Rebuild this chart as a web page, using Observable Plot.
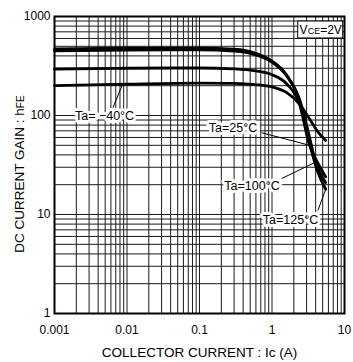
<!DOCTYPE html>
<html><head><meta charset="utf-8">
<script src="https://cdn.jsdelivr.net/npm/d3@7"></script>
<script src="https://cdn.jsdelivr.net/npm/@observablehq/plot@0.6"></script>
<style>body{margin:0;background:#fff}</style>
</head><body><div id="chart"></div>
<script>
// Axis ticks
const xTicks = [0.001, 0.01, 0.1, 1, 10];
const xTickLabels = ["0.001", "0.01", "0.1", "1", "10"];
const yTicks = [1, 10, 100, 1000];
const yTickLabels = ["1", "10", "100", "1000"];
const xLabel = "COLLECTOR CURRENT : Ic (A)";
const yLabel = "DC CURRENT GAIN : hFE";
const conditionLabel = "VCE=2V";

// Series (Ic in A, hFE)
const ic125  = [0.001, 0.01, 0.1, 0.3, 0.6, 1, 1.6, 2.4, 3.3, 4.2, 5.5];
const hfe125 = [470, 478, 480, 468, 425, 355, 255, 140, 52, 28, 18];
const ic100  = [0.001, 0.01, 0.1, 0.3, 0.6, 1, 1.6, 2.4, 3.3, 3.9, 5.5];
const hfe100 = [450, 458, 460, 448, 410, 345, 250, 145, 60, 36, 21];
const ic25   = [0.001, 0.01, 0.1, 0.3, 0.6, 1, 1.6, 2.4, 3.24, 4.2, 5.5];
const hfe25  = [295, 300, 302, 296, 282, 258, 208, 130, 52, 34, 24];
const icM40  = [0.001, 0.01, 0.1, 0.3, 0.6, 1, 1.6, 2.4, 3.3, 4.2, 5.5];
const hfeM40 = [200, 207, 212, 211, 205, 194, 170, 130, 92, 70, 56];

// Annotations: label anchor (Ic, hFE) and leader line from label to curve
const labelText = ["Ta= \u221240°C", "Ta=25°C", "Ta=100°C", "Ta=125°C"];
const labelIc   = [0.0049, 0.29, 0.53, 1.8];
const labelHfe  = [100, 74, 19.2, 8.7];
const leadIc1   = [0.0064, 0.72, 1.36, 4.3];
const leadHfe1  = [120, 67, 23.1, 11];
const leadIc2   = [0.0087, 3.3, 3.9, 5.5];
const leadHfe2  = [207, 50, 33.5, 17.9];
// condition box
const boxIc = [2.3, 9.6];
const boxHfe = [600, 890];
const boxTextAt = [4.7, 728];

function grid(lo, hi) {
  const out = [];
  for (let d = lo; d < hi; d *= 10) for (let m = 1; m <= 9; m++) out.push(+(d * m).toPrecision(3));
  out.push(hi);
  return out;
}
const xGrid = grid(0.001, 10);
const yGrid = grid(1, 1000);

const series = [
  {name: "125", ic: ic125, hfe: hfe125},
  {name: "100", ic: ic100, hfe: hfe100},
  {name: "25", ic: ic25, hfe: hfe25},
  {name: "-40", ic: icM40, hfe: hfeM40}
].flatMap(s => s.ic.map((x, i) => ({series: s.name, ic: x, hfe: s.hfe[i]})));

const labels = labelText.map((t, i) => ({t, x: labelIc[i], y: labelHfe[i], x1: leadIc1[i], y1: leadHfe1[i], x2: leadIc2[i], y2: leadHfe2[i]}));

const font = "'Liberation Sans', Arial, Helvetica, sans-serif";

const chart = Plot.plot({
  width: 353, height: 362,
  marginLeft: 54, marginRight: 9, marginTop: 16, marginBottom: 49,
  x: {type: "log", domain: [0.001, 10], axis: null},
  y: {type: "log", domain: [1, 1000], axis: null},
  style: {fontFamily: font, fontSize: "12px", background: "white", color: "black"},
  marks: [
    Plot.ruleX(xGrid, {stroke: "#1a1a1a", strokeWidth: 1}),
    Plot.ruleY(yGrid, {stroke: "#1a1a1a", strokeWidth: 1}),
    Plot.rect([0], {x1: boxIc[0], x2: boxIc[1], y1: boxHfe[0], y2: boxHfe[1], fill: "white", stroke: "black", strokeWidth: 1}),
    Plot.text([conditionLabel], {x: boxTextAt[0], y: boxTextAt[1], text: d => d, fontSize: 12, fill: "black"}),
    Plot.line(series, {x: "ic", y: "hfe", z: "series", stroke: "black", strokeWidth: 2.8, curve: "monotone-x"}),
    Plot.link(labels, {x1: "x1", y1: "y1", x2: "x2", y2: "y2", stroke: "black", strokeWidth: 1}),
    Plot.text(labels, {x: "x", y: "y", text: "t", fontSize: 12.5, fill: "black", stroke: "white", strokeWidth: 6}),
    Plot.frame({stroke: "black", strokeWidth: 2}),
    Plot.axisX(xTicks, {tickSize: 0, tickPadding: 12, tickFormat: d => xTickLabels[xTicks.indexOf(d)], fontSize: 12, label: null}),
    Plot.axisY(yTicks, {tickSize: 0, tickPadding: 4, tickFormat: d => yTickLabels[yTicks.indexOf(d)], fontSize: 12, label: null}),
    Plot.text([xLabel], {frameAnchor: "bottom", dy: 39, text: d => d, fontSize: 13.5, fill: "black", lineAnchor: "middle", textAnchor: "middle"}),
    Plot.text([yLabel], {frameAnchor: "left", dx: -35, dy: 9, rotate: -90, text: d => d, fontSize: 13.5, fill: "black", lineAnchor: "middle", textAnchor: "middle"})
  ]
});
document.getElementById("chart").appendChild(chart);

// subscripts
d3.select(chart).selectAll("text").each(function() {
  const el = d3.select(this);
  const t = this.textContent;
  if (t === yLabel) {
    el.text(null);
    el.append("tspan").text("DC CURRENT GAIN : h");
    el.append("tspan").attr("font-size", 10).text("FE");
  } else if (t === conditionLabel) {
    el.text(null);
    el.append("tspan").text("V");
    el.append("tspan").attr("font-size", 9).text("CE");
    el.append("tspan").text("=2V");
  }
});
</script></body></html>
